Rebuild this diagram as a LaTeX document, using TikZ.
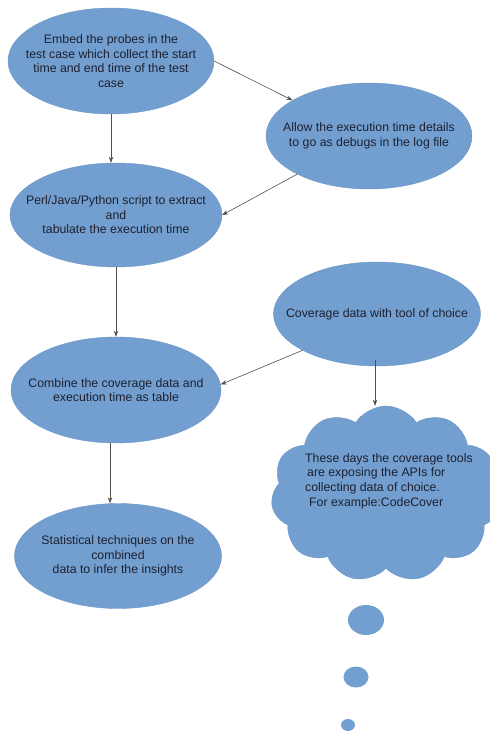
\documentclass[tikz,border=0pt]{standalone}
\usepackage{fontspec}
\setmainfont{Liberation Sans}
\usetikzlibrary{shapes.geometric,shapes.symbols,arrows.meta}
\definecolor{blobfill}{HTML}{729FCF}
\definecolor{blobline}{HTML}{6A95C6}
\definecolor{txtcol}{HTML}{1E2030}
\definecolor{arrcol}{HTML}{505050}
\tikzset{
  blob/.style={ellipse, fill=blobfill, draw=blobline, line width=0.4pt, inner sep=0pt},
  txt/.style={text=txtcol, font=\fontsize{12.3}{14.6}\selectfont, align=center, inner sep=0pt},
  conn/.style={draw=arrcol, line width=0.6pt, -{Stealth[length=6pt,width=4.5pt]}},
}
\begin{document}
\begin{tikzpicture}[x=1pt,y=-1pt]
\useasboundingbox (0,0) rectangle (490,731);
% ellipses
\node[blob, minimum width=206, minimum height=106] (e1) at (111,61) {};
\node[blob, minimum width=206, minimum height=106] (e2) at (369,136) {};
\node[blob, minimum width=212, minimum height=104] (e3) at (116,215) {};
\node[blob, minimum width=207, minimum height=104] (e4) at (377,314) {};
\node[blob, minimum width=210, minimum height=106] (e5) at (116,390) {};
\node[blob, minimum width=207, minimum height=105] (e6) at (118,556) {};
% cloud and bubbles
\node[cloud, cloud puffs=11, cloud puff arc=115, fill=blobfill, draw=blobline, line width=0.4pt,
      minimum width=230, minimum height=176, inner sep=0pt] (cl) at (386,494) {};
\node[ellipse, fill=blobfill, minimum width=36, minimum height=30, inner sep=0pt] (b1) at (366,620) {};
\node[ellipse, fill=blobfill, minimum width=25, minimum height=21, inner sep=0pt] (b2) at (356,677) {};
\node[ellipse, fill=blobfill, minimum width=14, minimum height=12, inner sep=0pt] (b3) at (348,725) {};
% texts
\node[txt] (t1) at (e1) {Embed the probes in the\\test case which collect the start\\time and end time of the test\\case};
\node[txt] (t2) at (e2) {Allow the execution time details\\to go as debugs in the log file};
\node[txt] (t3) at (e3) {Perl/Java/Python script to extract\\and\\tabulate the execution time};
\node[txt] (t4) at (e4) {Coverage data with tool of choice};
\node[txt] (t5) at (e5) {Combine the coverage data and\\execution time as table};
\node[txt] (t6) at (e6) {Statistical techniques on the\\combined\\data to infer the insights};
\node[txt, align=left, anchor=west] (t7) at (305,481) {These days the coverage tools\\\hspace{2pt}are exposing the APIs for\\collecting data of choice.\\\hspace{4pt}For example:CodeCover};
% connectors
\draw[conn] (e1.south) -- (e1.south |- e3.north);
\draw[conn] (e1.east) -- (e2.155);
\draw[conn] (e2.208) -- (e3.east);
\draw[conn] (e3.south) -- (e3.south |- e5.north);
\draw[conn] (e4.206) -- (e5.3);
\draw[conn] ([xshift=-2pt,yshift=6pt]e4.south) -- ([xshift=-2pt]e4.south |- cl.north);
\draw[conn] ([xshift=-6pt]e5.south) -- ([xshift=-6pt]e5.south |- e6.north);
\end{tikzpicture}
\end{document}
